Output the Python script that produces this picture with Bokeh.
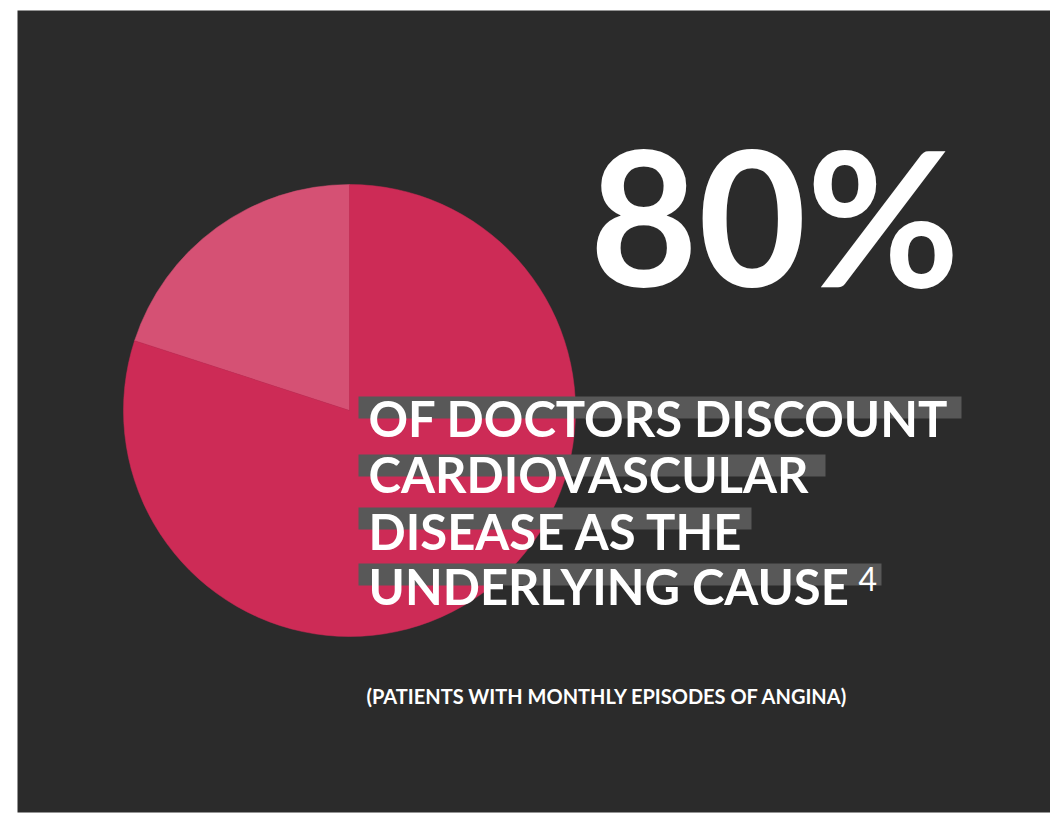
import math
from bokeh.plotting import figure
from bokeh.models import Range1d
from bokeh.core.properties import value
from bokeh.embed import file_html
from bokeh.resources import INLINE

# ---- data ----
categories = ["Discount cardiovascular disease", "Other"]
percent_values = [80, 20]
slice_colors = ["#CD2B56", "#D55174"]
headline = "80%"
body_lines = ["OF DOCTORS DISCOUNT", "CARDIOVASCULAR", "DISEASE AS THE", "UNDERLYING CAUSE"]
footnote_mark = "4"
subtitle = "(PATIENTS WITH MONTHLY EPISODES OF ANGINA)"

W, H = 1033, 802
p = figure(width=1050, height=813, output_backend="svg", toolbar_location=None,
           x_range=Range1d(0, W), y_range=Range1d(0, H),
           min_border_left=17, min_border_top=10, min_border_right=0, min_border_bottom=1)
p.background_fill_color = "#2B2B2B"
p.border_fill_color = "white"
p.outline_line_color = None
p.grid.visible = False
p.axis.visible = False

def X(px):
    return px - 17

def Y(py):
    return 812 - py

BASE_SHIFT = 0.39  # renderer places alphabetic baseline ~0.39em lower

def label(txt, px, baseline_py, size, style="bold"):
    p.text(x=[X(px)], y=[Y(baseline_py - BASE_SHIFT * size)], text=[txt], text_color="white",
           text_font=value("Lato"), text_font_style=style, text_font_size=f"{size}px",
           text_baseline="alphabetic", text_align="left")

# ---- pie ----
cx, cy, r = X(349), Y(410), 226
total = sum(percent_values)
order = [1, 0]  # 20% slice first, counter-clockwise from 12 o'clock
start = math.pi / 2
for i in order:
    span = percent_values[i] / total * 2 * math.pi
    p.wedge(x=cx, y=cy, radius=r, start_angle=start, end_angle=start + span,
            fill_color=slice_colors[i], line_color=slice_colors[i], line_width=0.5)
    start += span

# ---- headline ----
label(headline, 589, 287, 187)

# ---- highlighted body lines ----
bar_right = [961, 825, 751, 881]
bar_top = [396, 454, 507, 563]
baselines = [437, 493, 550, 605]
for br, bt in zip(bar_right, bar_top):
    p.quad(left=X(358), right=X(br), top=Y(bt), bottom=Y(bt + 22),
           fill_color="#585858", line_color=None)
for line, bl in zip(body_lines, baselines):
    label(line, 368, bl, 49)

label(footnote_mark, 858, 591, 32, style="normal")
label(subtitle, 366, 703, 20)

open("out.html", "w").write(file_html(p, INLINE))
